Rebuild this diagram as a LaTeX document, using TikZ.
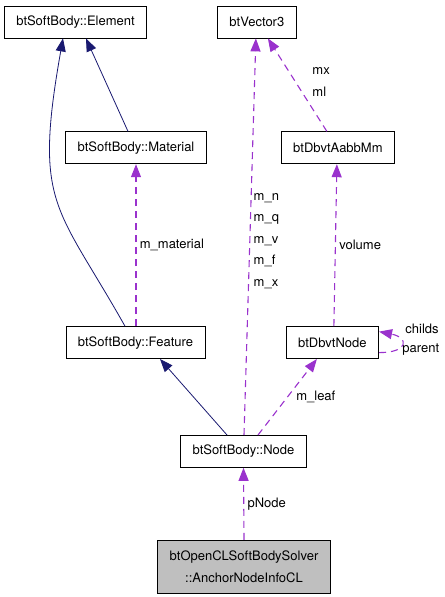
\documentclass[tikz,border=0pt]{standalone}
\usepackage{fontspec}
\setmainfont{TeX Gyre Heros}
\usepackage{tikz}
\usetikzlibrary{positioning,arrows.meta}
\definecolor{edgenavy}{HTML}{191970}
\definecolor{edgepurple}{HTML}{9A32CD}
\definecolor{boxgray}{HTML}{BFBFBF}

\begin{document}
\begin{tikzpicture}[>={Triangle[length=13bp,width=10bp]}, font=\fontsize{13bp}{21.5bp}\selectfont]

\tikzstyle{block} = [draw, rectangle, align=center, minimum height=32bp, inner xsep=12bp, inner ysep=0pt, line width=0.8bp]
\tikzstyle{inherit} = [->, draw=edgenavy, line width=0.8bp]
\tikzstyle{member} = [->, draw=edgepurple, line width=1.1bp, dash pattern=on 7bp off 5bp]

\useasboundingbox (0,0) rectangle (445bp,-597bp);

% class boxes
\node [block] (element) at (75.5bp,-22bp) {btSoftBody::Element};
\node [block, right=70bp of element] (vector) {btVector3};
\node [block, below=93bp of element, xshift=60.5bp] (material) {btSoftBody::Material};
\node [block, below=93bp of vector, xshift=81bp] (aabb) {btDbvtAabbMm};
\node [block, below=162bp of material, xshift=-0.5bp] (feature) {btSoftBody::Feature};
\node [block, below=162bp of aabb, xshift=-5.5bp] (dbvtnode) {btDbvtNode};
\node [block, below=76bp of feature, xshift=108bp] (node) {btSoftBody::Node};
\node [block, fill=boxgray, minimum height=53bp, below=72bp of node, xshift=0.5bp] (anchor) {btOpenCLSoftBodySolver\\::AnchorNodeInfoCL};

% inheritance
\draw [inherit] ([xshift=-10.5bp]feature.north) .. controls +(-68.6bp,121.8bp) and +(-29.7bp,-167.4bp) .. ([xshift=-12.5bp]element.south);
\draw [inherit] ([xshift=-8bp]material.north) -- ([xshift=10.5bp]element.south);
\draw [inherit] ([xshift=-16.5bp]node.north) -- ([xshift=24.5bp]feature.south);

% members
\draw [member] ([xshift=0.5bp]feature.north) -- node[right, text=black] {m\_material} (material.south);
\draw [member] ([xshift=0.5bp]node.north) -- node[pos=0.49, right, align=left, text=black] {m\_n\\m\_q\\m\_v\\m\_f\\m\_x} ([xshift=-1bp]vector.south);
\draw [member] ([xshift=-11bp]aabb.north) -- node[pos=0.53, right=13bp, align=left, text=black] {mx\\ml} ([xshift=11bp]vector.south);
\draw [member] ([xshift=1.5bp]dbvtnode.north) -- node[right, text=black] {volume} ([xshift=-1bp]aabb.south);
\draw [member] ([xshift=14.5bp]node.north) -- node[right=5bp, text=black] {m\_leaf} ([xshift=-15.5bp]dbvtnode.south);
\draw [member] (anchor.north) -- node[right, text=black] {pNode} (node.south);

% self loop
\draw [member] ([yshift=-10bp]dbvtnode.east) .. controls +(30bp,0) and +(30bp,-6bp) .. node[pos=0.5, anchor=west, yshift=15.75bp, text=black] {childs} node[pos=0.5, anchor=west, xshift=-3bp, yshift=-5.25bp, text=black] {parent} ([yshift=11bp]dbvtnode.east);

\end{tikzpicture}
\end{document}
